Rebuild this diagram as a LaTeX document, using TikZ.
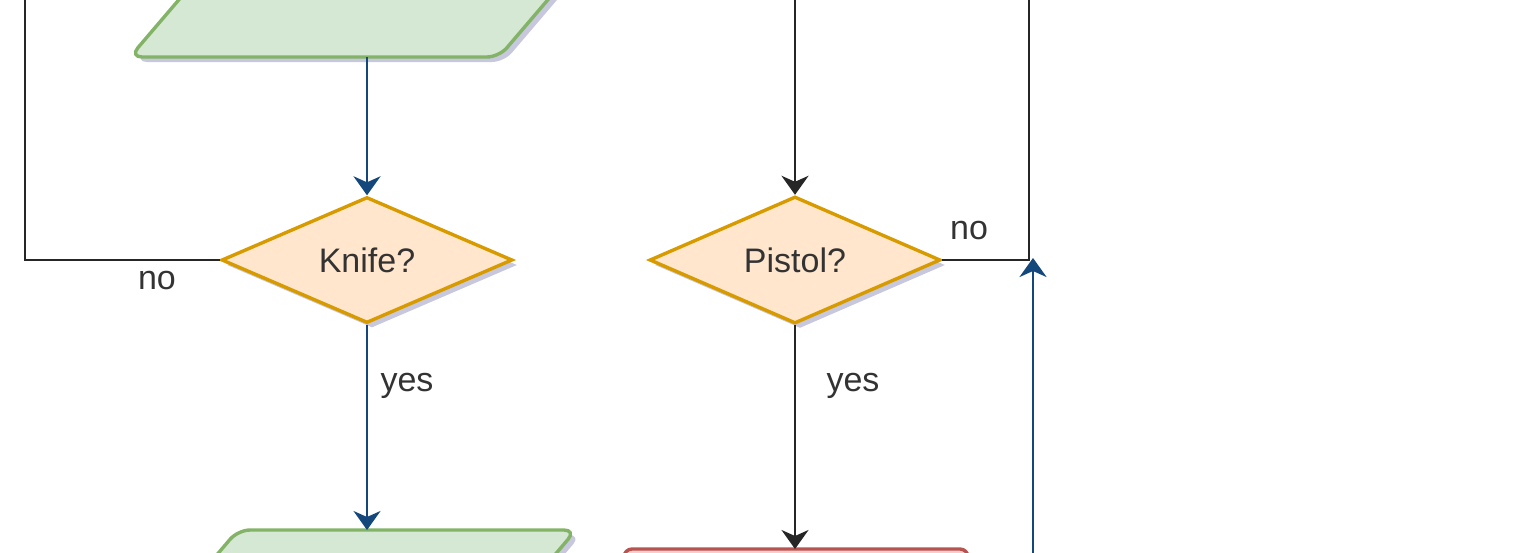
\documentclass[tikz,border=0pt]{standalone}
\usepackage{fontspec}
\setmainfont{Liberation Sans}
\usetikzlibrary{shapes.geometric,arrows.meta,shadows}
\definecolor{gfill}{HTML}{D5E8D4}
\definecolor{gline}{HTML}{82B366}
\definecolor{ofill}{HTML}{FFE6CC}
\definecolor{oline}{HTML}{D79B00}
\definecolor{rfill}{HTML}{F8CECC}
\definecolor{rline}{HTML}{B85450}
\definecolor{bline}{HTML}{14487C}
\definecolor{txt}{HTML}{333333}
\begin{document}
\begin{tikzpicture}[x=0.5pt,y=-0.5pt,
  softshadow/.style={drop shadow={opacity=0.22,shadow xshift=2.5pt,shadow yshift=-2.5pt,fill=black!60!blue}},
  decision/.style={diamond,draw=oline,fill=ofill,line width=1.7pt,minimum width=145.5pt,minimum height=63pt,inner sep=0pt,font=\fontsize{17}{20}\selectfont,text=txt,softshadow},
  ioshape/.style={draw=gline,fill=gfill,line width=1.7pt,rounded corners=6pt,softshadow},
  procshape/.style={draw=rline,fill=rfill,line width=1.7pt,rounded corners=4pt,softshadow},
  tip/.style={-{Stealth[length=9.5pt,width=13.5pt,inset=3pt]}},
  blackline/.style={draw=black!85,line width=1.2pt},
  blueline/.style={draw=bline,line width=1.2pt},
  lbl/.style={font=\fontsize{17}{20}\selectfont,text=txt,inner sep=0pt}]
\useasboundingbox (0,0) rectangle (1514,552);
% shapes
\path[ioshape] (130,57) -- (235,-66) -- (604,-66) -- (499,57) -- cycle;
\path[ioshape] (158,624) -- (238,530) -- (576,530) -- (496,624) -- cycle;
\path[procshape] (624,549) rectangle (968,630);
\node[decision] (knife) at (367,260) {Knife?};
\node[decision] (pistol) at (795,260) {Pistol?};
% connection points
\coordinate (inA) at (367,57);
\coordinate (inB) at (367,530);
\coordinate (procA) at (795,549);
\coordinate (leftTop) at (25,-20);
\coordinate (leftCorner) at (25,260);
\coordinate (pistolIn) at (795,-20);
\coordinate (rightCorner) at (1029,260);
\coordinate (rightTop) at (1029,-20);
\coordinate (blueBottom) at (1033,600);
\coordinate (blueTip) at (1033,258);
% connectors
\draw[blueline,tip] (inA) -- (knife.north);
\draw[blueline,tip] (knife.south) -- (inB);
\draw[blackline] (knife.west) -- (leftCorner) -- (leftTop);
\draw[blackline,tip] (pistolIn) -- (pistol.north);
\draw[blackline,tip] (pistol.south) -- (procA);
\draw[blackline] (pistol.east) -- (rightCorner) -- (rightTop);
\draw[blueline,tip] (blueBottom) -- (blueTip);
% labels
\node[lbl] (noK) at (157,281) {no};
\node[lbl] (yesK) at (407,386) {yes};
\node[lbl] (noP) at (969,231) {no};
\node[lbl] (yesP) at (853,386) {yes};
\end{tikzpicture}
\end{document}
